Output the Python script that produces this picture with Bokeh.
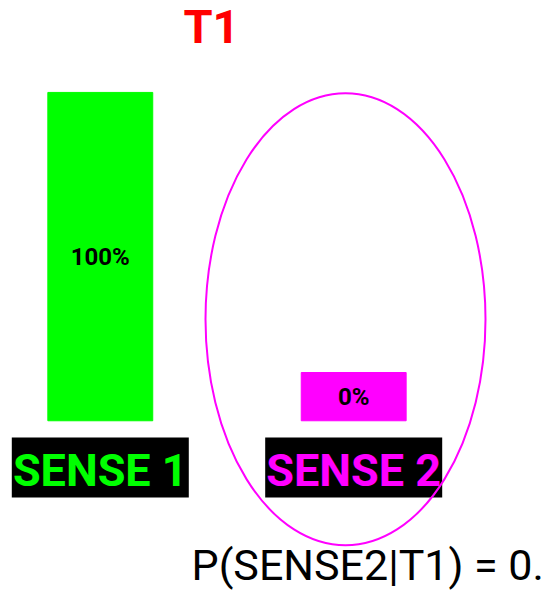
from bokeh.plotting import figure
from bokeh.models import Range1d, ColumnDataSource
from bokeh.core.properties import value
from bokeh.embed import file_html
from bokeh.resources import INLINE

# ---- data ----
categories = ["SENSE 1", "SENSE 2"]
percent = [100, 0]
bar_colors = ["#00FF00", "#FF00FF"]
title_text = "T1"
formula_text = "P(SENSE2|T1) = 0."

FONT = "Roboto"
MIN_DISPLAY = 14.7  # minimum drawn bar height, in value units

idx = list(range(len(categories)))
shown = [max(v, MIN_DISPLAY) for v in percent]
src = ColumnDataSource(dict(
    x=idx,
    top=shown,
    mid=[s / 2 for s in shown],
    color=bar_colors,
    cat=categories,
    pct=[f"{v}%" for v in percent],
))

p = figure(width=558, height=592, output_backend="svg", toolbar_location=None,
           x_range=Range1d(-0.3938, 1.8082), y_range=Range1d(-52.3, 128.0),
           min_border=0, x_axis_location=None, y_axis_location=None,
           outline_line_color=None, background_fill_color="white",
           border_fill_color="white")
p.xgrid.visible = False
p.ygrid.visible = False
p.extra_x_ranges = {"px": Range1d(0, 558)}
p.extra_y_ranges = {"px": Range1d(592, 0)}

# bars
p.vbar(x="x", top="top", bottom=0, width=0.414, color="color", source=src)
p.text(x="x", y="mid", text="pct", source=src, text_align="center",
       text_baseline="middle", text_color="black", text_font=value(FONT),
       text_font_style="bold", text_font_size="24px")

# category labels with black boxes
p.rect(x="x", y=467, width=0.6985, height=60, fill_color="black",
       line_color=None, source=src, y_range_name="px")
p.text(x="x", y=470, text="cat", source=src, text_align="center",
       text_baseline="middle", text_color="color", text_font=value(FONT),
       text_font_style="bold", text_font_size="45px", y_range_name="px")

# title
p.text(x=[211], y=[26], text=[title_text], text_align="center",
       text_baseline="middle", text_color="#FF0000", text_font=value(FONT),
       text_font_style="bold", text_font_size="47px",
       x_range_name="px", y_range_name="px")

# formula
p.text(x=[191], y=[564], text=[formula_text], text_align="left",
       text_baseline="middle", text_color="black", text_font=value(FONT),
       text_font_size="43px", x_range_name="px", y_range_name="px")

# ellipse highlight
p.ellipse(x=[345], y=[318.8], width=[280], height=[452], fill_color=None,
          line_color="#FF00FF", line_width=2,
          x_range_name="px", y_range_name="px")

open("out.html", "w").write(file_html(p, INLINE))
